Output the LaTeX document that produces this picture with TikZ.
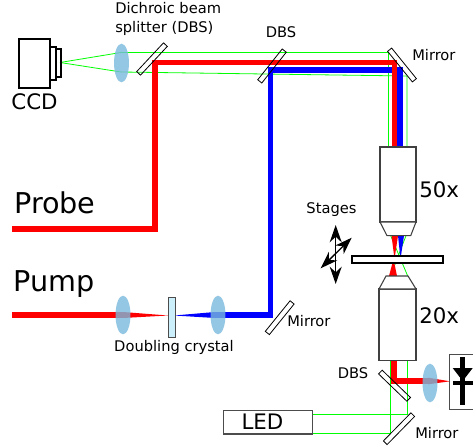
\documentclass[tikz,border=0pt]{standalone}
\usepackage{fontspec}
\setmainfont{DejaVu Sans}
\usetikzlibrary{arrows.meta,shapes.geometric}

\definecolor{lensblue}{RGB}{120,185,220}

\begin{document}
\begin{tikzpicture}[
  x=0.75pt, y=-0.75pt,
  beamred/.style={draw=red, line width=4.4pt},
  beamblue/.style={draw=blue, line width=4.4pt},
  beamgreen/.style={draw=green, line width=0.6pt},
  lens/.style={ellipse, fill=lensblue, opacity=0.8, minimum width=11.2pt, minimum height=29pt, inner sep=0pt},
  splitter/.style={draw, line width=0.6pt, minimum width=29.5pt, minimum height=3.9pt, inner sep=0pt},
  objbody/.style={draw=black!75, line width=0.8pt, fill=white},
  lbl/.style={font=\fontsize{11}{13}\selectfont, inner sep=0pt},
  biglbl/.style={font=\fontsize{16}{18}\selectfont, inner sep=0pt},
  hugelbl/.style={font=\fontsize{21.5}{24}\selectfont, inner sep=0pt},
  stagearrow/.style={{Stealth[length=13pt,width=9pt]}-{Stealth[length=13pt,width=9pt]}, line width=1pt}
]
  \useasboundingbox (0,0) rectangle (473,448);

  % beam corners
  \coordinate (ccdfocus) at (60,62.5);
  \coordinate (probein) at (12,229);
  \coordinate (probeup) at (155,229);
  \coordinate (probetop) at (155,62.5);
  \coordinate (probecorner) at (394.5,62.5);
  \coordinate (probedown) at (394.5,147);
  \coordinate (pumpin) at (12,315);
  \coordinate (pumplens) at (123,315);
  \coordinate (pumpturn) at (270.5,315);
  \coordinate (pumptop) at (270.5,70);
  \coordinate (pumpcorner) at (400,70);
  \coordinate (pumpdown) at (400,147);
  \coordinate (pumpstart) at (215,315);
  \coordinate (sigtop) at (394,360);
  \coordinate (sigturn) at (394,381);
  \coordinate (sigend) at (428,381);

  % green imaging path
  \draw[beamgreen] (ccdfocus) -- (121,52.5) -- (388.5,52.5) -- (388.5,147);
  \draw[beamgreen] (ccdfocus) -- (121,72) -- (407,76) -- (407,147);
  \draw[beamgreen] (406,235.7) -- (390.5,276);
  \draw[beamgreen] (390.7,235.7) -- (407.7,276);
  \draw[beamgreen] (390.7,360) -- (390.7,433) -- (312,433);
  \draw[beamgreen] (407,360) -- (407,414.7) -- (312,414.7);

  % laser beams
  \draw[beamblue] (pumpstart) -- (pumpturn) -- (pumptop) -- (pumpcorner) -- (pumpdown);
  \draw[beamred] (probein) -- (probeup) -- (probetop) -- (probecorner) -- (probedown);
  \draw[beamred] (pumpin) -- (pumplens);
  \fill[red] (123,312) -- (168,315.5) -- (123,318) -- cycle;
  \fill[blue] (174,315.5) -- (215,312) -- (215,318) -- cycle;
  \fill[red] (391.5,235.7) -- (398,235.7) -- (394.5,259) -- cycle;
  \fill[blue] (398,235.7) -- (404,235.7) -- (400.5,259) -- cycle;
  \fill[red] (389,276) -- (397,276) -- (393.5,259) -- cycle;
  \draw[draw=red, line width=5pt] (sigtop) -- (sigturn) -- (sigend);
  \fill[red] (428,377.7) -- (450,381.3) -- (428,384.3) -- cycle;

  % lenses
  \foreach \nm/\px/\py in {ccdlens/121.5/63, pumplensa/123/315, pumplensb/218/315, detlens/430/383}
    \node[lens] (\nm) at (\px,\py) {};

  % mirrors and splitters
  \foreach \nm/\px/\py/\ang in {
    dbsa/152/59/47,
    dbsb/272/66/51.5,
    mirrortop/402/65/-51,
    mirrorpump/279.7/317.7/51,
    dbsc/394.5/385.7/-44,
    mirrorled/399/428.7/45.6}
    \node[splitter, rotate=\ang] (\nm) at (\px,\py) {};

  % camera
  \draw[line width=1.2pt] (19,39) rectangle (50,88);
  \draw[line width=1.0pt] (50,47) rectangle (56,80);
  \draw[line width=1.0pt] (56,49) rectangle (61,77);

  % objectives and sample
  \draw[objbody] (380,147) rectangle (416,222);
  \draw[objbody] (380,222) -- (416,222) -- (410.7,235.7) -- (387,235.7) -- cycle;
  \draw[objbody] (379,289) rectangle (416,360.5);
  \draw[objbody] (379,289) -- (416,289) -- (408,276) -- (386,276) -- cycle;
  \draw[fill=white, line width=1.1pt] (352,256) rectangle (443,263);

  % stages
  \coordinate (stagea) at (335.7,225);
  \coordinate (stageb) at (335.7,284);
  \coordinate (stagec) at (351.7,237.7);
  \coordinate (staged) at (320.7,268.3);
  \draw[stagearrow] (stagea) -- (stageb);
  \draw[stagearrow] (stagec) -- (staged);

  % crystal, LED, detector
  \draw[draw=black!70, fill=cyan!20, line width=0.7pt] (168.5,297) rectangle (175,337);
  \node[draw=black!70, line width=0.8pt, minimum width=66.5pt, minimum height=17.5pt, inner sep=0pt] (led) at (267.8,422.3) {};
  \node[biglbl, anchor=base] (ledlabel) at (262.5,429) {LED};
  \draw[black!70, line width=0.6pt] (473,354) -- (449,354) -- (449,409) -- (473,409);
  \fill (459.5,357) rectangle (464.5,405);
  \fill (452.7,368) -- (472.7,368) -- (462.7,381) -- cycle;
  \fill (452.7,381) rectangle (472.7,385);

  % labels
  \node[lbl, anchor=base west] (dbslabela) at (115,14) {Dichroic beam};
  \node[lbl, anchor=base west] (dbslabelb) at (115,32.5) {splitter (DBS)};
  \node[biglbl, anchor=base] (ccdlabel) at (34.5,110) {CCD};
  \node[lbl, anchor=base] (dbslabelc) at (281,38) {DBS};
  \node[lbl, anchor=base west] (mirrorlabela) at (412,61) {Mirror};
  \node[hugelbl, anchor=base west] (probelabel) at (14,214) {Probe};
  \node[hugelbl, anchor=base west] (pumplabel) at (13,291) {Pump};
  \node[biglbl, anchor=base west] (fiftylabel) at (419,198) {50x};
  \node[lbl, anchor=base] (stageslabel) at (331.5,214) {Stages};
  \node[biglbl, anchor=base west] (twentylabel) at (419,323) {20x};
  \node[lbl, anchor=base west] (mirrorlabelb) at (287,326) {Mirror};
  \node[lbl, anchor=base] (crystallabel) at (174,351) {Doubling crystal};
  \node[lbl, anchor=base] (dbslabeld) at (353,378) {DBS};
  \node[lbl, anchor=base west] (mirrorlabelc) at (415,438) {Mirror};
\end{tikzpicture}
\end{document}
